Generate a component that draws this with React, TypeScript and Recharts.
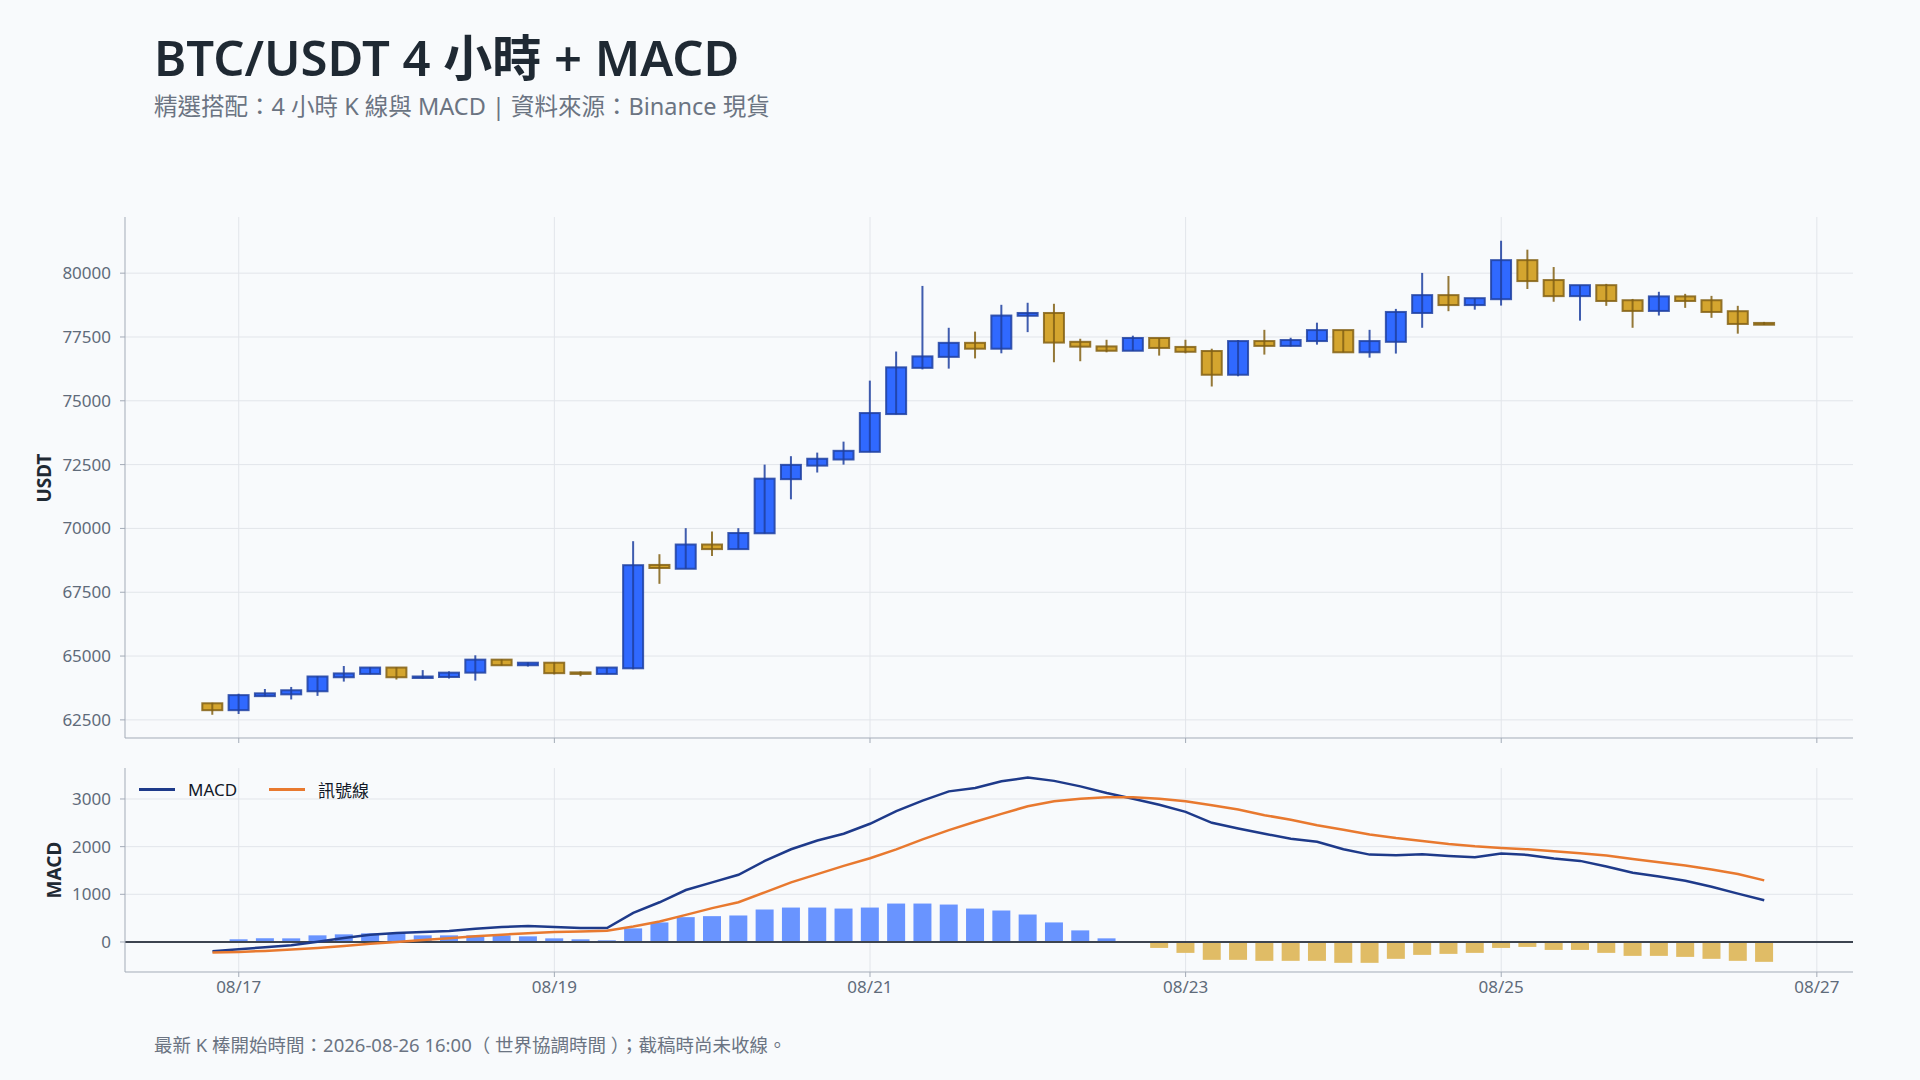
import { ComposedChart, Bar, Line, XAxis, YAxis, CartesianGrid, ReferenceLine, Cell } from 'recharts';

const FONT = '"Noto Sans", "Noto Sans CJK TC", sans-serif';

// 4h candles, first one opens 08/16 20:00 UTC, last one 08/26 16:00 UTC
const opens = [
  63150, 62880, 63430, 63500, 63620, 64170, 64300, 64550, 64170, 64180,
  64350, 64860, 64640, 64740, 64360, 64300, 64520, 68570, 68420, 69370,
  69190, 69810, 71930, 72460, 72700, 73000, 74480, 76290, 76720, 77270,
  77040, 78330, 78440, 77310, 77130, 76960, 77460, 77110, 76950, 76020,
  77340, 77150, 77340, 77770, 76900, 77310, 78440, 79140, 78750, 78980,
  80510, 79730, 79100, 79530, 78940, 78520, 79090, 78940, 78510, 78050,
];
const highs = [
  63170, 63525, 63710, 63790, 64210, 64610, 64560, 64560, 64450, 64400,
  65030, 64870, 64750, 64750, 64400, 64560, 69500, 68990, 70010, 69880,
  70010, 72500, 72830, 72970, 73400, 75790, 76930, 79500, 77860, 77710,
  78760, 78840, 78800, 77430, 77390, 77550, 77460, 77390, 77040, 77380,
  77780, 77470, 78060, 77770, 77780, 78600, 80010, 79890, 79020, 81270,
  80920, 80240, 79530, 79580, 78990, 79270, 79190, 79110, 78720, 78090,
];
const lows = [
  62700, 62730, 63420, 63300, 63440, 64000, 64290, 64080, 64120, 64120,
  64040, 64630, 64590, 64280, 64210, 64290, 64480, 67830, 68420, 68920,
  69190, 69800, 71140, 72190, 72500, 72990, 74470, 76230, 76260, 76660,
  76860, 77690, 76510, 76550, 76900, 76950, 76770, 76860, 75560, 75960,
  76810, 77130, 77200, 76900, 76690, 76850, 77860, 78510, 78570, 78730,
  79380, 78880, 78140, 78720, 77860, 78340, 78640, 78250, 77630, 77970,
];
const closes = [
  62880, 63470, 63540, 63660, 64200, 64320, 64550, 64170, 64200, 64350,
  64860, 64640, 64740, 64330, 64300, 64550, 68560, 68450, 69370, 69190,
  69820, 71950, 72490, 72730, 73040, 74520, 76310, 76740, 77270, 77040,
  78340, 78440, 77280, 77120, 76960, 77460, 77070, 76920, 76020, 77340,
  77150, 77380, 77770, 76900, 77340, 78480, 79140, 78750, 79020, 80510,
  79690, 79100, 79530, 78910, 78520, 79090, 78910, 78480, 78010, 77980,
];

const macdValues = [
  -194, -153, -111, -69, 7, 83, 150, 188, 208, 229,
  278, 313, 333, 313, 292, 292, 611, 833, 1090, 1250,
  1410, 1700, 1945, 2130, 2270, 2480, 2745, 2965, 3160, 3230,
  3370, 3450, 3380, 3265, 3125, 3005, 2880, 2730, 2500, 2380,
  2270, 2165, 2104, 1944, 1833, 1819, 1840, 1806, 1778, 1854,
  1826, 1750, 1701, 1583, 1451, 1375, 1285, 1160, 1014, 875,
];
const signalValues = [
  -222, -208, -188, -160, -125, -83, -35, 0, 42, 76,
  118, 153, 181, 208, 222, 236, 326, 431, 569, 710,
  833, 1042, 1250, 1424, 1597, 1757, 1944, 2153, 2347, 2521,
  2688, 2847, 2951, 3007, 3035, 3035, 3007, 2951, 2868, 2778,
  2660, 2565, 2451, 2354, 2257, 2181, 2118, 2056, 2007, 1972,
  1944, 1903, 1861, 1813, 1743, 1674, 1604, 1521, 1424, 1292,
];
const histValues = [
  20, 56, 76, 76, 139, 160, 181, 181, 139, 139,
  139, 139, 118, 76, 56, 35, 285, 410, 521, 542,
  556, 681, 722, 722, 701, 722, 806, 806, 785, 701,
  660, 576, 410, 243, 76, -8, -125, -229, -375, -375,
  -396, -396, -396, -438, -438, -354, -271, -250, -229, -125,
  -104, -167, -167, -229, -292, -292, -313, -354, -396, -417,
];

const dateTicks = [0, 48, 96, 144, 192, 240]; // hours after 08/17 00:00
const dateLabels = ['08/17', '08/19', '08/21', '08/23', '08/25', '08/27'];
const priceTicks = [62500, 65000, 67500, 70000, 72500, 75000, 77500, 80000];
const macdTicks = [0, 1000, 2000, 3000];

const data = opens.map((open, i) => ({
  t: -4 + i * 4,
  open,
  high: highs[i],
  low: lows[i],
  close: closes[i],
  macd: macdValues[i],
  signal: signalValues[i],
  hist: histValues[i],
}));

const X_DOMAIN = [-17.3, 245.5];
const tickStyle = { fill: '#5f6b7a', fontSize: 17, fontFamily: FONT };
const fmtDate = (v: number) => dateLabels[dateTicks.indexOf(v)] ?? '';

const Candle = (props: any) => {
  const { x, y, width, height, payload } = props;
  const { open, close, high, low } = payload;
  const top = Math.min(y, y + height);
  const h = Math.abs(height);
  const k = high === low ? 0 : h / (high - low);
  const bTop = top + (high - Math.max(open, close)) * k;
  const bBot = top + (high - Math.min(open, close)) * k;
  const up = close >= open;
  const cx = x + width / 2;
  const edge = up ? 'rgba(30,64,160,0.85)' : 'rgba(130,96,20,0.85)';
  return (
    <g>
      <rect x={x} y={bTop} width={width} height={Math.max(bBot - bTop, 1.5)}
        fill={up ? '#3069ff' : '#d4a52f'} stroke={edge} strokeWidth={2} />
      <line x1={cx} x2={cx} y1={top} y2={top + h} stroke={edge} strokeWidth={2} />
    </g>
  );
};

export default function App() {
  return (
    <div style={{ position: 'absolute', left: 0, top: 0, width: 1920, height: 1080, background: '#f8fafc', fontFamily: FONT, overflow: 'hidden' }}>
      <div style={{ position: 'absolute', left: 154, top: 25, fontSize: 49, lineHeight: '64px', fontWeight: 600, color: '#1f2933', whiteSpace: 'nowrap' }}>
        BTC/USDT 4 小時 + MACD
      </div>
      <div style={{ position: 'absolute', left: 154, top: 92, fontSize: 23.5, lineHeight: '28px', color: '#6b7482', whiteSpace: 'nowrap' }}>
        精選搭配：4 小時 K 線與 MACD | 資料來源：Binance 現貨
      </div>

      <div style={{ position: 'absolute', left: 0, top: 0 }}>
        <ComposedChart width={1920} height={760} data={data} margin={{ top: 217, right: 67, bottom: 0, left: 0 }}>
          <CartesianGrid stroke="#e2e5ea" strokeWidth={1} horizontalValues={priceTicks} verticalValues={dateTicks} />
          <XAxis dataKey="t" type="number" domain={X_DOMAIN} ticks={dateTicks} allowDataOverflow
            height={22} tickSize={5} tick={() => <g />} stroke="#a3abb7" />
          <YAxis type="number" domain={[61790, 82200]} ticks={priceTicks} allowDataOverflow width={125}
            tickSize={5} tickMargin={9} tick={tickStyle} stroke="#a3abb7"
            label={{ content: () => (
              <text x={44} y={478} transform="rotate(-90 44 478)" textAnchor="middle" dominantBaseline="central"
                fontSize={19} fontWeight={700} fill="#1f2933" fontFamily={FONT}>USDT</text>
            ) }} />
          <Bar dataKey={(d: any) => [d.low, d.high]} barSize={20} shape={Candle} isAnimationActive={false} />
        </ComposedChart>
      </div>

      <div style={{ position: 'absolute', left: 0, top: 740 }}>
        <ComposedChart width={1920} height={280} data={data} margin={{ top: 28, right: 67, bottom: 18, left: 0 }}>
          <CartesianGrid stroke="#e2e5ea" strokeWidth={1} horizontalValues={macdTicks} verticalValues={dateTicks} />
          <XAxis dataKey="t" type="number" domain={X_DOMAIN} ticks={dateTicks} allowDataOverflow
            height={30} tickSize={5} tickMargin={4} tick={tickStyle} tickFormatter={fmtDate} stroke="#a3abb7" />
          <YAxis type="number" domain={[-630, 3650]} ticks={macdTicks} allowDataOverflow width={125}
            tickSize={5} tickMargin={9} tick={tickStyle} stroke="#a3abb7"
            label={{ content: () => (
              <text x={54} y={130} transform="rotate(-90 54 130)" textAnchor="middle" dominantBaseline="central"
                fontSize={19} fontWeight={700} fill="#1f2933" fontFamily={FONT}>MACD</text>
            ) }} />
          <Bar dataKey="hist" barSize={18} isAnimationActive={false}>
            {data.map((d, i) => (
              <Cell key={i} fill={d.hist >= 0 ? '#6994ff' : '#e0bc66'} />
            ))}
          </Bar>
          <ReferenceLine y={0} stroke="#3d4450" strokeWidth={2} />
          <Line dataKey="macd" type="linear" stroke="#1e3a8a" strokeWidth={2.5} dot={false} isAnimationActive={false} />
          <Line dataKey="signal" type="linear" stroke="#e8792f" strokeWidth={2.5} dot={false} isAnimationActive={false} />
        </ComposedChart>
      </div>

      <div style={{ position: 'absolute', left: 139, top: 777, display: 'flex', alignItems: 'center', fontSize: 17, color: '#111827', whiteSpace: 'nowrap' }}>
        <span style={{ display: 'inline-block', width: 36, height: 3, background: '#1e3a8a', marginRight: 13 }} />
        <span style={{ marginRight: 32 }}>MACD</span>
        <span style={{ display: 'inline-block', width: 36, height: 3, background: '#e8792f', marginRight: 13 }} />
        <span>訊號線</span>
      </div>

      <div style={{ position: 'absolute', left: 154, top: 1034, fontSize: 18.5, lineHeight: '22px', color: '#6b7482', whiteSpace: 'nowrap' }}>
        最新 K 棒開始時間：2026-08-26 16:00（ 世界協調時間 ）；截稿時尚未收線。
      </div>
    </div>
  );
}
